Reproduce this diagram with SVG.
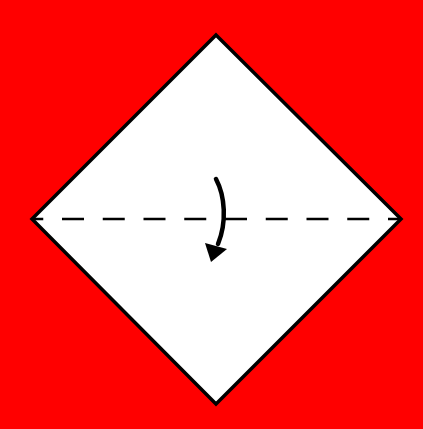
<svg xmlns="http://www.w3.org/2000/svg" width="423" height="429" viewBox="0 0 423 429">
<style>
.paper{fill:#ffffff;stroke:#000000;stroke-width:3.5;stroke-linejoin:miter}
.fold{fill:none;stroke:#000000;stroke-width:2.5;stroke-dasharray:22 18.75;stroke-dashoffset:10.75}
.arrow{fill:none;stroke:#000000;stroke-width:4.5;stroke-linecap:round}
</style>
<rect x="0" y="0" width="423" height="429" fill="#ff0000"/>
<g id="paper">
<polygon class="paper" points="216,35 401,219 216,404 32,219"/>
</g>
<g id="connectors">
<line class="fold" x1="32" y1="219" x2="401" y2="219"/>
<path class="arrow" d="M216,179 C225,196 227,222 218,244"/>
<polygon points="205,243 227,249 211,262" fill="#000000"/>
</g>
</svg>
